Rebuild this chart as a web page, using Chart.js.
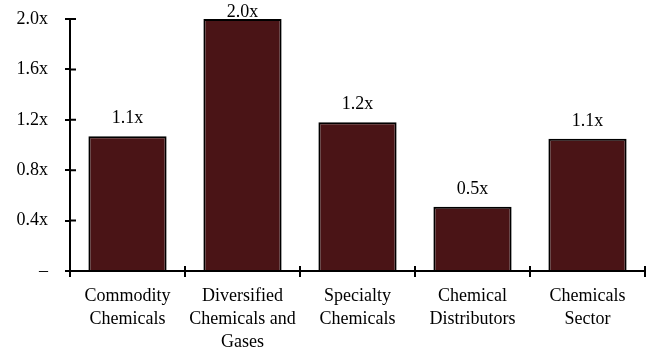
<!DOCTYPE html>
<html>
<head>
<meta charset="utf-8">
<script src="https://cdn.jsdelivr.net/npm/chart.js@4"></script>
<style>
  html, body { margin: 0; padding: 0; background: #fff; }
  #wrap { width: 652px; height: 350px; }
</style>
</head>
<body>
<div id="wrap"><canvas id="chart"></canvas></div>
<script>
const categories = [
    ['Commodity', 'Chemicals'],
    ['Diversified', 'Chemicals and', 'Gases'],
    ['Specialty', 'Chemicals'],
    ['Chemical', 'Distributors'],
    ['Chemicals', 'Sector']
];
const multiples = [1.07, 2.0, 1.18, 0.51, 1.05];
const valueLabels = ['1.1x', '2.0x', '1.2x', '0.5x', '1.1x'];
const yTicks = [0, 0.4, 0.8, 1.2, 1.6, 2.0];

const FONT = { family: '"Liberation Serif", serif', size: 18, lineHeight: 1.28 };

// value labels above the bars and tick marks that cross the axes
const extras = {
    id: 'extras',
    afterDatasetsDraw(chart) {
        const ctx = chart.ctx;
        const meta = chart.getDatasetMeta(0);
        ctx.save();
        ctx.font = FONT.size + 'px ' + FONT.family;
        ctx.fillStyle = '#000';
        ctx.textAlign = 'center';
        ctx.textBaseline = 'alphabetic';
        meta.data.forEach(function (bar, i) {
            ctx.fillText(valueLabels[i], bar.x, Math.max(bar.y - 13, 17));
        });

        const x = chart.scales.x;
        const y = chart.scales.y;
        ctx.strokeStyle = '#000';
        ctx.lineWidth = 2;
        ctx.beginPath();
        const step = (x.right - x.left) / categories.length;
        for (let i = 0; i <= categories.length; i++) {
            const px = x.left + i * step;
            ctx.moveTo(px, y.bottom - 5);
            ctx.lineTo(px, y.bottom);
        }
        y.ticks.forEach(function (t) {
            const py = y.getPixelForValue(t.value);
            ctx.moveTo(x.left, py);
            ctx.lineTo(x.left + 6, py);
        });
        ctx.stroke();
        ctx.restore();
    }
};

new Chart(document.getElementById('chart'), {
    type: 'bar',
    data: {
        labels: categories,
        datasets: [{
            data: multiples,
            backgroundColor: '#4a1416',
            borderColor: '#000',
            borderWidth: 2,
            borderSkipped: 'bottom',
            categoryPercentage: 0.68,
            barPercentage: 1.0
        }]
    },
    options: {
        responsive: true,
        maintainAspectRatio: false,
        animation: false,
        layout: { padding: { top: 19, right: 7, left: 0, bottom: 0 } },
        plugins: {
            legend: { display: false },
            tooltip: { enabled: false }
        },
        scales: {
            x: {
                grid: {
                    offset: true,
                    drawOnChartArea: false,
                    color: '#000',
                    lineWidth: 2,
                    tickLength: 6
                },
                border: { color: '#000', width: 2 },
                ticks: {
                    color: '#000',
                    font: FONT,
                    padding: 8,
                    maxRotation: 0,
                    autoSkip: false
                },
                afterFit(scale) {
                    scale.height = 79;
                    scale.paddingTop = 0;
                    scale.paddingBottom = 0;
                }
            },
            y: {
                min: 0,
                max: 2.0,
                afterBuildTicks(scale) {
                    scale.ticks = yTicks.map(function (v) { return { value: v }; });
                },
                grid: {
                    drawOnChartArea: false,
                    color: '#000',
                    lineWidth: 2,
                    tickLength: 5
                },
                border: { color: '#000', width: 2 },
                ticks: {
                    color: '#000',
                    font: FONT,
                    padding: 17,
                    callback: function (v) { return v === 0 ? '–' : v.toFixed(1) + 'x'; }
                },
                afterFit(scale) {
                    scale.width = 70;
                    scale.paddingTop = 0;
                    scale.paddingBottom = 0;
                }
            }
        }
    },
    plugins: [extras]
});
</script>
</body>
</html>
